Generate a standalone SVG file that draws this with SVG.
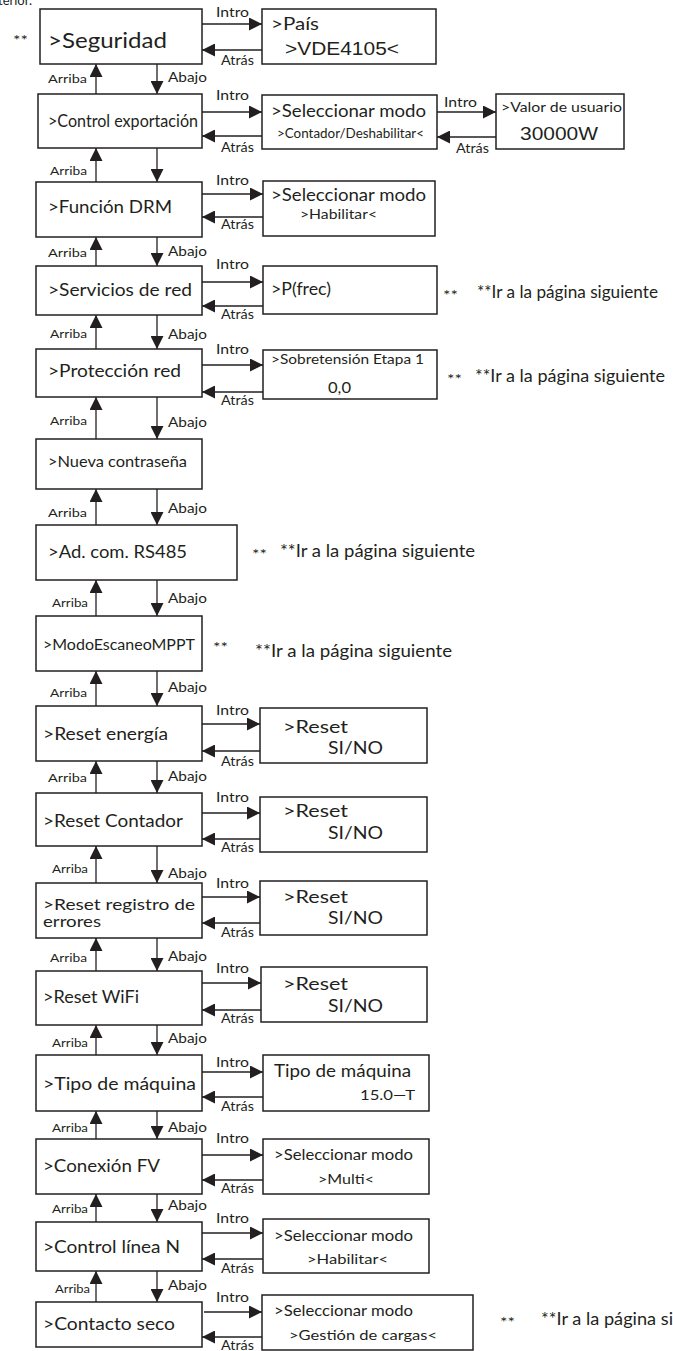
<svg xmlns="http://www.w3.org/2000/svg" width="673" height="1351" viewBox="0 0 673 1351">
<style>
text{font-family:Lato,"Open Sans",sans-serif;fill:#231f20}
.box{fill:#fff;stroke:#231f20;stroke-width:1.5}
.ln{fill:none;stroke:#231f20;stroke-width:1.3;marker-end:url(#ah)}
.lbl{font-size:13px}
.up{font-size:11px}
.ar{font-family:"Liberation Sans",Arial,sans-serif}
</style>
<defs>
<marker id="ah" markerUnits="userSpaceOnUse" markerWidth="13" markerHeight="13" refX="13" refY="6.5" orient="auto"><path d="M0,0 L13,6.5 L0,13 Z" fill="#231f20"/></marker>
</defs>
<rect width="673" height="1351" fill="#fff"/>
<text x="-2" y="5" font-size="13" textLength="34" lengthAdjust="spacingAndGlyphs">terior.</text>

<g id="connectors">
<path class="ln" d="M202,24 H262"/><path class="ln" d="M262,50 H202"/>
<path class="ln" d="M202,112 H262"/><path class="ln" d="M262,136 H202"/>
<path class="ln" d="M437,112 H496"/><path class="ln" d="M496,137 H437"/>
<path class="ln" d="M202,194 H263"/><path class="ln" d="M263,217 H202"/>
<path class="ln" d="M202,282 H263"/><path class="ln" d="M263,306 H202"/>
<path class="ln" d="M202,365 H263"/><path class="ln" d="M263,392 H202"/>
<path class="ln" d="M202,724 H260"/><path class="ln" d="M260,751 H202"/>
<path class="ln" d="M202,813 H260"/><path class="ln" d="M260,839 H202"/>
<path class="ln" d="M202,897 H260"/><path class="ln" d="M260,923 H202"/>
<path class="ln" d="M202,983 H261"/><path class="ln" d="M261,1010 H202"/>
<path class="ln" d="M202,1072 H263"/><path class="ln" d="M263,1097 H202"/>
<path class="ln" d="M202,1155 H263"/><path class="ln" d="M263,1180 H202"/>
<path class="ln" d="M202,1233 H263"/><path class="ln" d="M263,1259 H202"/>
<path class="ln" d="M204,1312 H262"/><path class="ln" d="M262,1337 H202"/>

<path class="ln" d="M157,64 V94"/><path class="ln" d="M96,94 V64"/>
<path class="ln" d="M157,148 V182"/><path class="ln" d="M96,182 V148"/>
<path class="ln" d="M157,237 V266"/><path class="ln" d="M96,266 V237"/>
<path class="ln" d="M157,315 V349"/><path class="ln" d="M96,349 V315"/>
<path class="ln" d="M157,397 V439"/><path class="ln" d="M96,439 V397"/>
<path class="ln" d="M157,489 V525"/><path class="ln" d="M96,525 V489"/>
<path class="ln" d="M157,580 V616"/><path class="ln" d="M96,616 V580"/>
<path class="ln" d="M157,671 V706"/><path class="ln" d="M96,706 V671"/>
<path class="ln" d="M157,761 V793"/><path class="ln" d="M96,793 V761"/>
<path class="ln" d="M157,846 V883"/><path class="ln" d="M96,883 V846"/>
<path class="ln" d="M157,938 V971"/><path class="ln" d="M96,971 V938"/>
<path class="ln" d="M157,1025 V1055"/><path class="ln" d="M96,1055 V1025"/>
<path class="ln" d="M157,1111 V1139"/><path class="ln" d="M96,1139 V1111"/>
<path class="ln" d="M157,1194 V1222"/><path class="ln" d="M96,1222 V1194"/>
<path class="ln" d="M157,1271 V1302"/><path class="ln" d="M96,1302 V1271"/>

<g class="lbl">
<text x="216" y="17" textLength="33" lengthAdjust="spacingAndGlyphs">Intro</text>
<text x="216" y="100" textLength="33" lengthAdjust="spacingAndGlyphs">Intro</text>
<text x="444" y="107" textLength="33" lengthAdjust="spacingAndGlyphs">Intro</text>
<text x="216" y="185" textLength="33" lengthAdjust="spacingAndGlyphs">Intro</text>
<text x="216" y="269" textLength="33" lengthAdjust="spacingAndGlyphs">Intro</text>
<text x="216" y="354" textLength="33" lengthAdjust="spacingAndGlyphs">Intro</text>
<text x="216" y="715" textLength="33" lengthAdjust="spacingAndGlyphs">Intro</text>
<text x="216" y="802" textLength="33" lengthAdjust="spacingAndGlyphs">Intro</text>
<text x="216" y="888" textLength="33" lengthAdjust="spacingAndGlyphs">Intro</text>
<text x="216" y="973" textLength="33" lengthAdjust="spacingAndGlyphs">Intro</text>
<text x="216" y="1067" textLength="33" lengthAdjust="spacingAndGlyphs">Intro</text>
<text x="216" y="1143" textLength="33" lengthAdjust="spacingAndGlyphs">Intro</text>
<text x="216" y="1223" textLength="33" lengthAdjust="spacingAndGlyphs">Intro</text>
<text x="216" y="1302" textLength="33" lengthAdjust="spacingAndGlyphs">Intro</text>

<text x="221" y="65" textLength="33" lengthAdjust="spacingAndGlyphs">Atrás</text>
<text x="221" y="152" textLength="33" lengthAdjust="spacingAndGlyphs">Atrás</text>
<text x="456" y="153" textLength="33" lengthAdjust="spacingAndGlyphs">Atrás</text>
<text x="221" y="229" textLength="33" lengthAdjust="spacingAndGlyphs">Atrás</text>
<text x="221" y="319" textLength="33" lengthAdjust="spacingAndGlyphs">Atrás</text>
<text x="221" y="405" textLength="33" lengthAdjust="spacingAndGlyphs">Atrás</text>
<text x="221" y="766" textLength="33" lengthAdjust="spacingAndGlyphs">Atrás</text>
<text x="221" y="852" textLength="33" lengthAdjust="spacingAndGlyphs">Atrás</text>
<text x="221" y="937" textLength="33" lengthAdjust="spacingAndGlyphs">Atrás</text>
<text x="221" y="1023" textLength="33" lengthAdjust="spacingAndGlyphs">Atrás</text>
<text x="221" y="1111" textLength="33" lengthAdjust="spacingAndGlyphs">Atrás</text>
<text x="221" y="1193" textLength="33" lengthAdjust="spacingAndGlyphs">Atrás</text>
<text x="221" y="1273" textLength="33" lengthAdjust="spacingAndGlyphs">Atrás</text>
<text x="221" y="1350" textLength="33" lengthAdjust="spacingAndGlyphs">Atrás</text>

<text x="168" y="82" textLength="39" lengthAdjust="spacingAndGlyphs">Abajo</text>
<text x="168" y="256" textLength="39" lengthAdjust="spacingAndGlyphs">Abajo</text>
<text x="168" y="339" textLength="39" lengthAdjust="spacingAndGlyphs">Abajo</text>
<text x="168" y="427" textLength="39" lengthAdjust="spacingAndGlyphs">Abajo</text>
<text x="168" y="513" textLength="39" lengthAdjust="spacingAndGlyphs">Abajo</text>
<text x="168" y="603" textLength="39" lengthAdjust="spacingAndGlyphs">Abajo</text>
<text x="168" y="692" textLength="39" lengthAdjust="spacingAndGlyphs">Abajo</text>
<text x="168" y="781" textLength="39" lengthAdjust="spacingAndGlyphs">Abajo</text>
<text x="168" y="878" textLength="39" lengthAdjust="spacingAndGlyphs">Abajo</text>
<text x="168" y="961" textLength="39" lengthAdjust="spacingAndGlyphs">Abajo</text>
<text x="168" y="1043" textLength="39" lengthAdjust="spacingAndGlyphs">Abajo</text>
<text x="168" y="1132" textLength="39" lengthAdjust="spacingAndGlyphs">Abajo</text>
<text x="168" y="1210" textLength="39" lengthAdjust="spacingAndGlyphs">Abajo</text>
<text x="168" y="1290" textLength="39" lengthAdjust="spacingAndGlyphs">Abajo</text>
</g>
<g class="up">
<text x="48" y="83" textLength="39" lengthAdjust="spacingAndGlyphs">Arriba</text>
<text x="50" y="175" textLength="37" lengthAdjust="spacingAndGlyphs">Arriba</text>
<text x="48" y="257" textLength="39" lengthAdjust="spacingAndGlyphs">Arriba</text>
<text x="50" y="338" textLength="37" lengthAdjust="spacingAndGlyphs">Arriba</text>
<text x="50" y="425" textLength="37" lengthAdjust="spacingAndGlyphs">Arriba</text>
<text x="48" y="517" textLength="39" lengthAdjust="spacingAndGlyphs">Arriba</text>
<text x="52" y="607" textLength="36" lengthAdjust="spacingAndGlyphs">Arriba</text>
<text x="50" y="697" textLength="37" lengthAdjust="spacingAndGlyphs">Arriba</text>
<text x="48" y="782" textLength="39" lengthAdjust="spacingAndGlyphs">Arriba</text>
<text x="52" y="873" textLength="36" lengthAdjust="spacingAndGlyphs">Arriba</text>
<text x="50" y="962" textLength="37" lengthAdjust="spacingAndGlyphs">Arriba</text>
<text x="52" y="1047" textLength="36" lengthAdjust="spacingAndGlyphs">Arriba</text>
<text x="52" y="1132" textLength="36" lengthAdjust="spacingAndGlyphs">Arriba</text>
<text x="52" y="1213" textLength="36" lengthAdjust="spacingAndGlyphs">Arriba</text>
<text x="55" y="1293" textLength="35" lengthAdjust="spacingAndGlyphs">Arriba</text>
</g>
</g>

<g id="n-seguridad"><rect class="box" x="40" y="9" width="162" height="55"/><text x="48" y="48" font-size="21" textLength="119" lengthAdjust="spacingAndGlyphs">&gt;Seguridad</text></g>
<g id="n-control-exportacion"><rect class="box" x="38" y="94" width="164" height="54"/><text x="48" y="127" font-size="18" textLength="150" lengthAdjust="spacingAndGlyphs">&gt;Control exportación</text></g>
<g id="n-funcion-drm"><rect class="box" x="36" y="182" width="166" height="55"/><text x="48" y="213" font-size="18" textLength="124" lengthAdjust="spacingAndGlyphs">&gt;Función DRM</text></g>
<g id="n-servicios-red"><rect class="box" x="36" y="266" width="166" height="49"/><text x="48" y="296" font-size="18" textLength="144" lengthAdjust="spacingAndGlyphs">&gt;Servicios de red</text></g>
<g id="n-proteccion-red"><rect class="box" x="36" y="349" width="166" height="48"/><text x="48" y="377" font-size="17" textLength="133" lengthAdjust="spacingAndGlyphs">&gt;Protección red</text></g>
<g id="n-nueva-contrasena"><rect class="box" x="36" y="439" width="166" height="50"/><text x="48" y="467" font-size="15" textLength="139" lengthAdjust="spacingAndGlyphs">&gt;Nueva contraseña</text></g>
<g id="n-ad-com"><rect class="box" x="36" y="525" width="201" height="55"/><text x="48" y="558" font-size="17" textLength="139" lengthAdjust="spacingAndGlyphs">&gt;Ad. com. RS485</text></g>
<g id="n-modo-escaneo"><rect class="box" x="36" y="616" width="166" height="55"/><text x="43" y="650" font-size="14.5" textLength="152" lengthAdjust="spacingAndGlyphs">&gt;ModoEscaneoMPPT</text></g>
<g id="n-reset-energia"><rect class="box" x="36" y="706" width="166" height="55"/><text x="43" y="740" font-size="16.5" textLength="125" lengthAdjust="spacingAndGlyphs">&gt;Reset energía</text></g>
<g id="n-reset-contador"><rect class="box" x="36" y="793" width="166" height="53"/><text x="43" y="827" font-size="16.5" textLength="140" lengthAdjust="spacingAndGlyphs">&gt;Reset Contador</text></g>
<g id="n-reset-registro"><rect class="box" x="36" y="883" width="166" height="55"/><text x="43" y="910" font-size="16" textLength="152" lengthAdjust="spacingAndGlyphs">&gt;Reset registro de</text><text x="43" y="927" font-size="16" textLength="58" lengthAdjust="spacingAndGlyphs">errores</text></g>
<g id="n-reset-wifi"><rect class="box" x="36" y="971" width="166" height="54"/><text x="43" y="1003" font-size="16.5" textLength="96" lengthAdjust="spacingAndGlyphs">&gt;Reset WiFi</text></g>
<g id="n-tipo-maquina"><rect class="box" x="36" y="1055" width="166" height="56"/><text x="43" y="1090" font-size="17.5" textLength="153" lengthAdjust="spacingAndGlyphs">&gt;Tipo de máquina</text></g>
<g id="n-conexion-fv"><rect class="box" x="36" y="1139" width="166" height="55"/><text x="43" y="1172" font-size="17" textLength="117" lengthAdjust="spacingAndGlyphs">&gt;Conexión FV</text></g>
<g id="n-control-linea-n"><rect class="box" x="36" y="1222" width="166" height="49"/><text x="43" y="1253" font-size="17" textLength="137" lengthAdjust="spacingAndGlyphs">&gt;Control línea N</text></g>
<g id="n-contacto-seco"><rect class="box" x="36" y="1302" width="166" height="45"/><text x="43" y="1330" font-size="17" textLength="132" lengthAdjust="spacingAndGlyphs">&gt;Contacto seco</text></g>

<g id="s-pais"><rect class="box" x="262" y="9" width="174" height="55"/><text x="271" y="30" font-size="17" textLength="48" lengthAdjust="spacingAndGlyphs">&gt;País</text><text class="ar" x="285" y="55" font-size="17.5" textLength="114" lengthAdjust="spacingAndGlyphs">&gt;VDE4105&lt;</text></g>
<g id="s-export-modo"><rect class="box" x="262" y="95" width="175" height="54"/><text x="271" y="117" font-size="17" textLength="155" lengthAdjust="spacingAndGlyphs">&gt;Seleccionar modo</text><text x="277" y="138" font-size="12.5" textLength="147" lengthAdjust="spacingAndGlyphs">&gt;Contador/Deshabilitar&lt;</text></g>
<g id="s-valor-usuario"><rect class="box" x="496" y="94" width="128" height="55"/><text x="501" y="112" font-size="13.5" textLength="121" lengthAdjust="spacingAndGlyphs">&gt;Valor de usuario</text><text class="ar" x="520" y="140" font-size="17.5" textLength="78" lengthAdjust="spacingAndGlyphs">30000W</text></g>
<g id="s-drm-modo"><rect class="box" x="263" y="181" width="172" height="55"/><text x="271" y="201" font-size="17" textLength="155" lengthAdjust="spacingAndGlyphs">&gt;Seleccionar modo</text><text x="300" y="219" font-size="13" textLength="77" lengthAdjust="spacingAndGlyphs">&gt;Habilitar&lt;</text></g>
<g id="s-pfrec"><rect class="box" x="263" y="266" width="174" height="48"/><text x="271" y="295" font-size="17" textLength="60" lengthAdjust="spacingAndGlyphs">&gt;P(frec)</text></g>
<g id="s-sobretension"><rect class="box" x="263" y="350" width="174" height="49"/><text x="271" y="364" font-size="13.5" textLength="153" lengthAdjust="spacingAndGlyphs">&gt;Sobretensión Etapa 1</text><text x="328" y="393" font-size="16" textLength="23" lengthAdjust="spacingAndGlyphs">0,0</text></g>
<g id="s-reset-energia"><rect class="box" x="260" y="708" width="167" height="55"/><text x="283" y="733" font-size="18" textLength="65" lengthAdjust="spacingAndGlyphs">&gt;Reset</text><text x="328" y="754" font-size="18" textLength="55" lengthAdjust="spacingAndGlyphs">SI/NO</text></g>
<g id="s-reset-contador"><rect class="box" x="260" y="797" width="167" height="55"/><text x="283" y="817" font-size="18" textLength="65" lengthAdjust="spacingAndGlyphs">&gt;Reset</text><text x="328" y="839" font-size="18" textLength="55" lengthAdjust="spacingAndGlyphs">SI/NO</text></g>
<g id="s-reset-registro"><rect class="box" x="260" y="881" width="167" height="54"/><text x="283" y="903" font-size="18" textLength="65" lengthAdjust="spacingAndGlyphs">&gt;Reset</text><text x="328" y="924" font-size="18" textLength="55" lengthAdjust="spacingAndGlyphs">SI/NO</text></g>
<g id="s-reset-wifi"><rect class="box" x="261" y="967" width="166" height="55"/><text x="283" y="990" font-size="18" textLength="65" lengthAdjust="spacingAndGlyphs">&gt;Reset</text><text x="328" y="1012" font-size="18" textLength="55" lengthAdjust="spacingAndGlyphs">SI/NO</text></g>
<g id="s-tipo-maquina"><rect class="box" x="263" y="1055" width="166" height="56"/><text x="274" y="1077" font-size="17" textLength="137" lengthAdjust="spacingAndGlyphs">Tipo de máquina</text><text x="360" y="1100" font-size="13.5" textLength="55" lengthAdjust="spacingAndGlyphs">15.0—T</text></g>
<g id="s-conexion-modo"><rect class="box" x="263" y="1139" width="166" height="55"/><text x="274" y="1160" font-size="15" textLength="139" lengthAdjust="spacingAndGlyphs">&gt;Seleccionar modo</text><text x="318" y="1184" font-size="14" textLength="56" lengthAdjust="spacingAndGlyphs">&gt;Multi&lt;</text></g>
<g id="s-lineaN-modo"><rect class="box" x="263" y="1219" width="166" height="54"/><text x="274" y="1241" font-size="15" textLength="139" lengthAdjust="spacingAndGlyphs">&gt;Seleccionar modo</text><text x="307" y="1264" font-size="14" textLength="81" lengthAdjust="spacingAndGlyphs">&gt;Habilitar&lt;</text></g>
<g id="s-contacto-modo"><rect class="box" x="262" y="1295" width="211" height="55"/><text x="274" y="1316" font-size="15" textLength="139" lengthAdjust="spacingAndGlyphs">&gt;Seleccionar modo</text><text x="289" y="1340" font-size="14" textLength="148" lengthAdjust="spacingAndGlyphs">&gt;Gestión de cargas&lt;</text></g>

<g id="notes">
<text x="13" y="45" font-size="14" textLength="15" lengthAdjust="spacingAndGlyphs">**</text>
<text x="443" y="300" font-size="14" textLength="15" lengthAdjust="spacingAndGlyphs">**</text>
<text x="477" y="298" font-size="17" textLength="181" lengthAdjust="spacingAndGlyphs">**Ir a la página siguiente</text>
<text x="447" y="384" font-size="14" textLength="15" lengthAdjust="spacingAndGlyphs">**</text>
<text x="475" y="382" font-size="17" textLength="190" lengthAdjust="spacingAndGlyphs">**Ir a la página siguiente</text>
<text x="252" y="559" font-size="14" textLength="15" lengthAdjust="spacingAndGlyphs">**</text>
<text x="280" y="557" font-size="17" textLength="195" lengthAdjust="spacingAndGlyphs">**Ir a la página siguiente</text>
<text x="213" y="652" font-size="14" textLength="15" lengthAdjust="spacingAndGlyphs">**</text>
<text x="255" y="657" font-size="17" textLength="197" lengthAdjust="spacingAndGlyphs">**Ir a la página siguiente</text>
<text x="500" y="1327" font-size="14" textLength="15" lengthAdjust="spacingAndGlyphs">**</text>
<text x="541" y="1325" font-size="17" textLength="132" lengthAdjust="spacingAndGlyphs">**Ir a la página si</text>
</g>
</svg>
